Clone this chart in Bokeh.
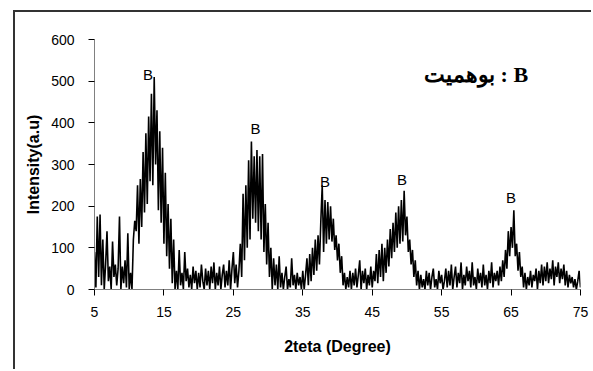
from bokeh.plotting import figure
from bokeh.models import Range1d, FixedTicker, ColumnDataSource
from bokeh.core.properties import value
from bokeh.embed import file_html
from bokeh.resources import INLINE

# ---- data (2theta step 0.2 degree, starting at 5) ----
start_deg = 5.0
step_deg = 0.2
seg_05_14 = [90, 5, 175, 30, 180, 10, 120, 0, 60, 140, 20, 55, 0, 115, 30,
             60, 10, 50, 175, 0, 55, 15, 70, 5, 135, 0, 40, 0, 120, 165,
             140, 250, 110, 265, 150, 330, 185, 375, 205, 415,
             260, 470, 250, 510, 300, 430, 190, 380, 160, 340]
seg_15_24 = [110, 280, 80, 205, 50, 170, 15, 120, 0, 45, 0, 95, 10, 40, 0,
             90, 20, 50, 5, 35, 0, 55, 15, 45, 0, 40, 5, 60, 20, 0,
             50, 10, 45, 0, 55, 15, 65, 0, 40, 10, 55, 0, 35, 60, 5,
             45, 10, 70, 0, 50]
seg_25_34 = [90, 15, 60, 5, 45, 110, 30, 230, 70, 250, 100, 310, 120, 355, 170,
             320, 160, 335, 140, 320, 120, 325, 90, 205, 60, 160, 30, 100, 0, 75,
             10, 60, 0, 80, 5, 40, 0, 30, 55, 0, 25, 5, 75, 10, 35,
             0, 40, 10, 30, 0]
seg_35_44 = [45, 0, 35, 75, 10, 85, 20, 100, 35, 120, 45, 130, 60, 165, 250,
             90, 215, 110, 210, 120, 200, 115, 170, 95, 130, 70, 110, 40, 80, 10,
             40, 0, 30, 5, 45, 0, 40, 10, 50, 5, 35, 70, 0, 45, 15,
             50, 0, 35, 10, 55]
seg_45_54 = [5, 45, 20, 85, 15, 95, 30, 110, 20, 100, 40, 120, 55, 145, 75,
             160, 90, 185, 100, 200, 110, 215, 115, 237, 130, 175, 90, 120, 60, 95,
             30, 70, 10, 45, 0, 35, 5, 25, 0, 45, 10, 40, 0, 30, 50,
             5, 25, 0, 45, 15]
seg_55_64 = [35, 0, 20, 50, 5, 45, 10, 60, 0, 30, 55, 5, 40, 15, 65,
             0, 35, 10, 55, 20, 45, 5, 65, 10, 30, 0, 50, 15, 40, 5,
             60, 10, 35, 0, 45, 15, 65, 5, 40, 20, 45, 10, 55, 20, 70,
             30, 95, 50, 140, 80]
seg_65_75 = [150, 100, 190, 80, 110, 45, 90, 30, 55, 5, 40, 0, 30, 10, 45,
             5, 35, 20, 50, 0, 45, 15, 60, 10, 55, 20, 65, 15, 50, 25,
             70, 10, 55, 30, 65, 15, 50, 25, 60, 10, 45, 5, 35, 15, 30,
             5, 25, 0, 20, 45, 5]

x_ticks = [5, 15, 25, 35, 45, 55, 65, 75]
y_ticks = [0, 100, 200, 300, 400, 500, 600]
peak_label_x = [12.7, 28.2, 38.2, 49.3, 65.0]
peak_label_y = [517, 387, 259, 263, 221]
peak_label_text = ["B", "B", "B", "B", "B"]
legend_text = "بوهمیت : B"

intensity = seg_05_14 + seg_15_24 + seg_25_34 + seg_35_44 + seg_45_54 + seg_55_64 + seg_65_75
two_theta = [round(start_deg + step_deg * i, 1) for i in range(len(intensity))]

p = figure(width=578, height=359, output_backend="svg", toolbar_location=None,
           x_range=Range1d(5, 75), y_range=Range1d(0, 600),
           min_border_left=79, min_border_right=13, min_border_top=27, min_border_bottom=82)
p.margin = (10, 0, 0, 13)
p.styles = {"border-top": "2px solid #333333", "border-left": "2px solid #333333"}
p.background_fill_color = "white"
p.border_fill_color = "white"
p.outline_line_color = None
p.grid.visible = False

p.line(two_theta, intensity, line_color="black", line_width=1.6)

src = ColumnDataSource(dict(x=peak_label_x, y=peak_label_y, t=peak_label_text))
p.text("x", "y", text="t", source=src, text_font=value("Liberation Sans"),
       text_font_size="15px", text_align="center", text_baseline="middle", text_color="black")

p.text(x=[67.45], y=[517], text=[legend_text], text_font=value("Liberation Serif"),
       text_font_style="bold", text_font_size="22px", text_align="right",
       text_baseline="middle", text_color="black")

for ax in (p.xaxis[0], p.yaxis[0]):
    ax.axis_line_color = "#808080"
    ax.axis_line_width = 1
    ax.major_tick_line_color = "black"
    ax.major_tick_out = 6
    ax.major_tick_in = 0
    ax.minor_tick_line_color = None
    ax.major_label_text_font = "Liberation Sans"
    ax.major_label_text_font_size = "14px"
    ax.major_label_text_color = "black"
    ax.axis_label_text_font = "Liberation Sans"
    ax.axis_label_text_font_style = "bold"
    ax.axis_label_text_font_size = "16px"
    ax.axis_label_text_color = "black"

p.xaxis.ticker = FixedTicker(ticks=x_ticks)
p.yaxis.ticker = FixedTicker(ticks=y_ticks)
p.xaxis.axis_label = "2teta (Degree)"
p.yaxis.axis_label = "Intensity(a.u)"
p.xaxis.major_label_standoff = 11
p.yaxis.major_label_standoff = 14
p.xaxis.axis_label_standoff = 18
p.yaxis.axis_label_standoff = 6

open("out.html", "w").write(file_html(p, INLINE))
